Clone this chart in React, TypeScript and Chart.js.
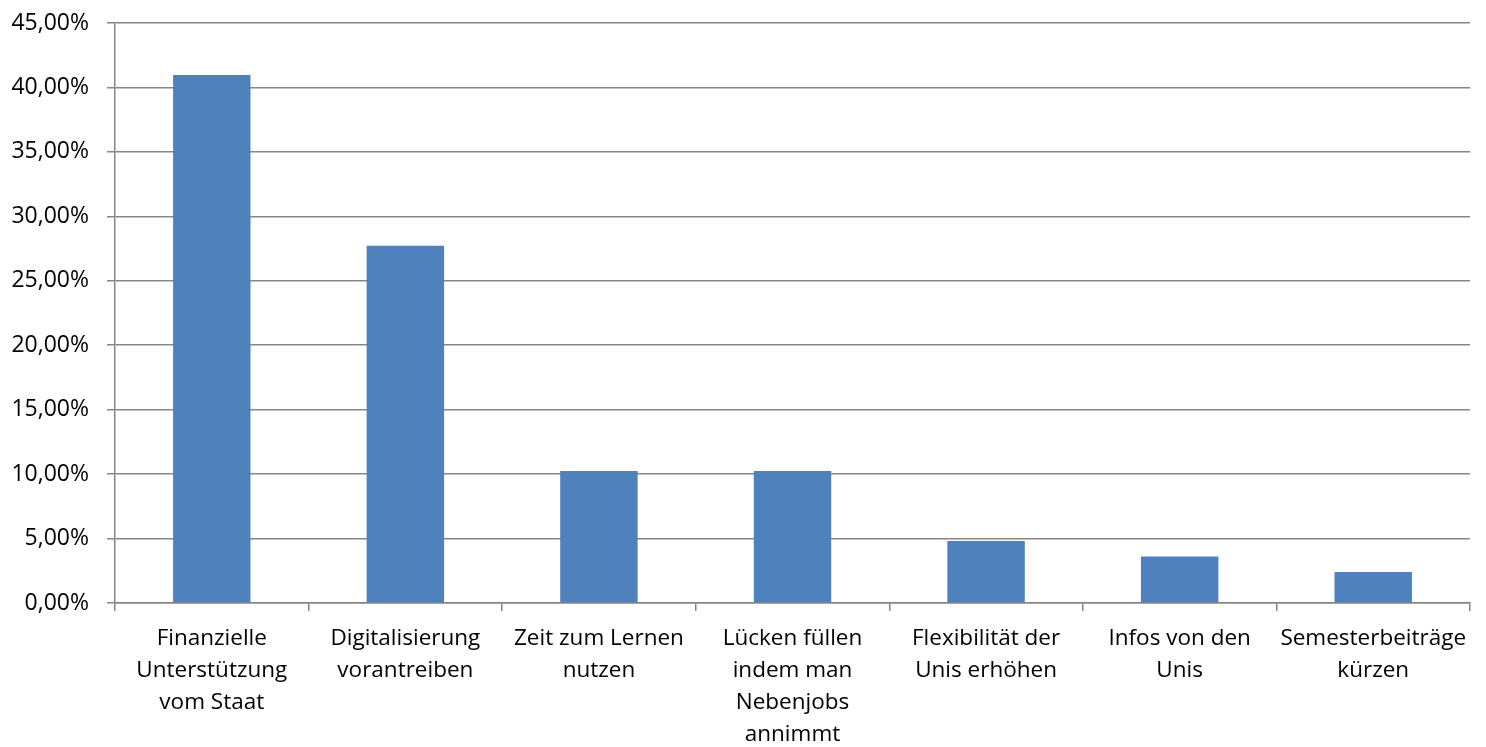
import React, { useEffect, useRef } from "react";
import { Chart, registerables } from "chart.js";

Chart.register(...registerables);

const categories: string[][] = [
  ["Finanzielle", "Unterstützung", "vom Staat"],
  ["Digitalisierung", "vorantreiben"],
  ["Zeit zum Lernen", "nutzen"],
  ["Lücken füllen", "indem man", "Nebenjobs", "annimmt"],
  ["Flexibilität der", "Unis erhöhen"],
  ["Infos von den", "Unis"],
  ["Semesterbeiträge", "kürzen"],
];

const values: number[] = [0.4096, 0.2771, 0.1024, 0.1024, 0.0482, 0.0361, 0.0241];

const yMin = 0;
const yMax = 0.45;
const yStep = 0.05;

const FONT = "'Open Sans', 'Liberation Sans', sans-serif";

function fmtPct(v: number): string {
  return (v * 100).toFixed(2).replace(".", ",") + "%";
}

export default function App() {
  const ref = useRef<HTMLCanvasElement | null>(null);

  useEffect(() => {
    document.body.style.margin = "0";
    const ctx = ref.current;
    if (!ctx) return;
    const chart = new Chart(ctx, {
      type: "bar",
      data: {
        labels: categories,
        datasets: [
          {
            data: values,
            backgroundColor: "#4F81BD",
            borderWidth: 0,
            barPercentage: 0.4,
            categoryPercentage: 1,
          },
        ],
      },
      options: {
        animation: false,
        responsive: false,
        maintainAspectRatio: false,
        layout: { padding: { top: 23, right: 16, left: 0, bottom: 0 } },
        plugins: {
          legend: { display: false },
          tooltip: { enabled: false },
          title: { display: false },
        },
        scales: {
          x: {
            offset: true,
            grid: {
              offset: true,
              drawOnChartArea: false,
              drawTicks: true,
              tickLength: 8,
              color: "#868686",
              lineWidth: 1.5,
            },
            border: { color: "#868686", width: 1.5 },
            ticks: {
              color: "#000000",
              font: { family: FONT, size: 22.5, lineHeight: 1.42 },
              maxRotation: 0,
              minRotation: 0,
              autoSkip: false,
              padding: 12,
            },
            afterFit: (scale: any) => {
              scale.height = 144;
              scale.paddingLeft = 0;
              scale.paddingRight = 0;
            },
          },
          y: {
            min: yMin,
            max: yMax,
            grid: {
              color: "#868686",
              lineWidth: 1.5,
              drawTicks: true,
              tickLength: 8,
            },
            border: { color: "#868686", width: 1.5 },
            ticks: {
              stepSize: yStep,
              color: "#000000",
              font: { family: FONT, size: 23 },
              padding: 18,
              callback: (v: any) => fmtPct(Number(v)),
            },
            afterFit: (scale: any) => {
              scale.width = 115;
              scale.paddingTop = 0;
              scale.paddingBottom = 0;
            },
          },
        },
      },
    });
    return () => chart.destroy();
  }, []);

  return (
    <div style={{ width: 1486, height: 747 }}>
      <canvas ref={ref} width={1486} height={747} style={{ display: "block" }} />
    </div>
  );
}
